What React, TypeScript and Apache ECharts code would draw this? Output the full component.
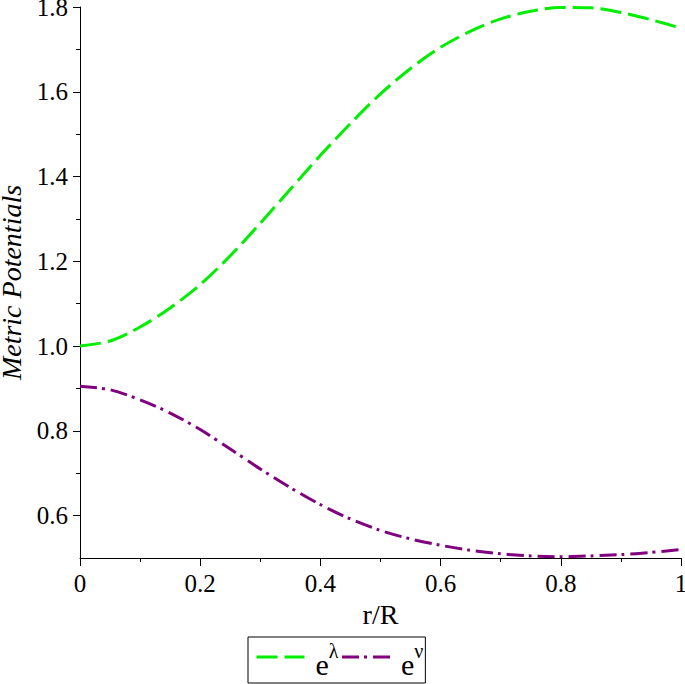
import React, { useEffect, useRef } from "react";
import * as echarts from "echarts";

const rValues = [0, 0.05, 0.1, 0.15, 0.2, 0.25, 0.3, 0.35, 0.4, 0.45, 0.5, 0.55, 0.6, 0.65, 0.7, 0.75, 0.8, 0.85, 0.9, 0.95, 1.0];
const eLambda = [1.0, 1.012, 1.045, 1.09, 1.145, 1.213, 1.29, 1.37, 1.45, 1.525, 1.595, 1.655, 1.705, 1.743, 1.772, 1.79, 1.799, 1.798, 1.787, 1.77, 1.75];
const eNu = [0.905, 0.897, 0.873, 0.842, 0.803, 0.757, 0.71, 0.666, 0.626, 0.592, 0.565, 0.545, 0.53, 0.518, 0.51, 0.505, 0.503, 0.505, 0.508, 0.513, 0.52];
const yLabelValues = [0.6, 0.8, 1.0, 1.2, 1.4, 1.6, 1.8];
const yMinorValues = [0.7, 0.9, 1.1, 1.3, 1.5, 1.7];
const seriesNames = ["eλ", "eν"];
const seriesColors = ["#00ee00", "#800080"];
const seriesDash = [[21, 7], [17, 5, 3, 6]];

const FONT = "Liberation Serif";

export default function App() {
  const ref = useRef<HTMLDivElement>(null);
  useEffect(() => {
    if (!ref.current) return;
    const chart = echarts.init(ref.current, null, { renderer: "svg" });
    const axisLineStyle = { color: "#000", width: 1 };
    chart.setOption({
      animation: false,
      backgroundColor: "#fff",
      grid: { left: 80, right: 4, top: 7, bottom: 126, outerBoundsMode: "none", containLabel: false },
      xAxis: {
        type: "value",
        min: 0,
        max: 1,
        interval: 0.2,
        name: "r/R",
        nameLocation: "middle",
        nameGap: 42,
        nameTextStyle: { fontFamily: FONT, fontSize: 28, color: "#000" },
        axisLine: { show: true, lineStyle: axisLineStyle },
        axisTick: { show: true, length: 8, lineStyle: axisLineStyle },
        minorTick: { show: true, splitNumber: 2, length: 4, lineStyle: axisLineStyle },
        splitLine: { show: false },
        axisLabel: {
          margin: 13,
          fontFamily: FONT,
          fontSize: 25,
          color: "#000",
          formatter: (v: number) => (v === 0 ? "0" : v === 1 ? "1" : v.toFixed(1)),
        },
      },
      yAxis: [
        {
          type: "value",
          min: 0.5,
          max: 1.8,
          name: "Metric Potentials",
          nameLocation: "middle",
          nameGap: 50,
          nameTextStyle: { fontFamily: FONT, fontSize: 28, fontStyle: "italic", color: "#000" },
          axisLine: { show: true, onZero: false, lineStyle: axisLineStyle },
          axisTick: { show: true, length: 7, lineStyle: axisLineStyle, customValues: yLabelValues },
          splitLine: { show: false },
          axisLabel: {
            margin: 12,
            fontFamily: FONT,
            fontSize: 25,
            color: "#000",
            customValues: yLabelValues,
            formatter: (v: number) => v.toFixed(1),
          },
        },
        {
          type: "value",
          min: 0.5,
          max: 1.8,
          position: "left",
          axisLine: { show: false },
          axisTick: { show: true, length: 4, lineStyle: axisLineStyle, customValues: yMinorValues },
          axisLabel: { show: false },
          splitLine: { show: false },
        },
      ],
      legend: {
        left: 248,
        top: 637,
        orient: "horizontal",
        padding: [4, 2, 4, 7],
        itemGap: 2,
        itemWidth: 48,
        itemHeight: 14,
        borderColor: "#000",
        borderWidth: 1,
        itemStyle: { color: "transparent", borderWidth: 0, opacity: 0 },
        data: seriesNames.map((n, i) => ({
          name: n,
          itemStyle: { color: "transparent", borderWidth: 0, opacity: 0 },
          lineStyle: { color: seriesColors[i], width: 3, type: seriesDash[i] },
        })),
        formatter: (name: string) => `{b|e}{s|${name.slice(1)}}`,
        textStyle: {
          fontFamily: FONT,
          fontSize: 28,
          color: "#000",
          rich: {
            b: { fontFamily: FONT, fontSize: 30, color: "#000", padding: [14, 0, 0, 6] },
            s: { fontFamily: FONT, fontSize: 20, color: "#000", padding: [0, 4, 12, 0] },
          },
        },
      },
      series: seriesNames.map((n, i) => ({
        name: n,
        type: "line",
        data: rValues.map((r, j) => [r, (i === 0 ? eLambda : eNu)[j]]),
        showSymbol: false,
        symbol: "none",
        smooth: 0.3,
        lineStyle: { color: seriesColors[i], width: 3, type: seriesDash[i] },
        itemStyle: { color: seriesColors[i] },
      })),
    });
    return () => chart.dispose();
  }, []);
  return (
    <div
      ref={ref}
      style={{ position: "fixed", left: 0, top: 0, width: 685, height: 684, background: "#fff" }}
    />
  );
}
